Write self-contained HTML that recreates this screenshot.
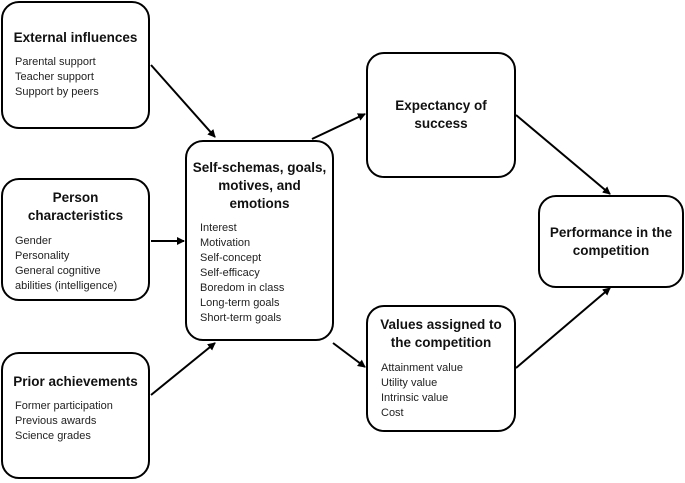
<!DOCTYPE html>
<html><head><style>
body{margin:0;width:685px;height:483px;background:#fff;position:relative;font-family:"Liberation Sans",sans-serif;color:#111;overflow:hidden}
.b{position:absolute;border:2px solid #000;border-radius:18px;box-sizing:border-box;background:#fff}
.t{position:absolute;font-weight:bold;font-size:13.5px;text-align:center;line-height:18px}
.l{position:absolute;font-size:11px;line-height:15px;color:#222}
svg{position:absolute;left:0;top:0}
</style></head><body>
<div class="b" style="left:1px;top:1px;width:149px;height:128px"></div>
<div class="t" style="left:1px;top:29px;width:149px">External influences</div>
<div class="l" style="left:15px;top:55px">Parental support<br>Teacher support<br>Support by peers</div>

<div class="b" style="left:1px;top:178px;width:149px;height:123px"></div>
<div class="t" style="left:1px;top:189px;width:149px">Person<br>characteristics</div>
<div class="l" style="left:15px;top:234px">Gender<br>Personality<br>General cognitive<br>abilities (intelligence)</div>

<div class="b" style="left:1px;top:352px;width:149px;height:127px"></div>
<div class="t" style="left:1px;top:373px;width:149px">Prior achievements</div>
<div class="l" style="left:15px;top:399px">Former participation<br>Previous awards<br>Science grades</div>

<div class="b" style="left:185px;top:140px;width:149px;height:201px"></div>
<div class="t" style="left:185px;top:159px;width:149px">Self-schemas, goals,<br>motives, and<br>emotions</div>
<div class="l" style="left:200px;top:221px">Interest<br>Motivation<br>Self-concept<br>Self-efficacy<br>Boredom in class<br>Long-term goals<br>Short-term goals</div>

<div class="b" style="left:366px;top:52px;width:150px;height:126px"></div>
<div class="t" style="left:366px;top:97px;width:150px">Expectancy of<br>success</div>

<div class="b" style="left:366px;top:305px;width:150px;height:127px"></div>
<div class="t" style="left:366px;top:316px;width:150px">Values assigned to<br>the competition</div>
<div class="l" style="left:381px;top:361px">Attainment value<br>Utility value<br>Intrinsic value<br>Cost</div>

<div class="b" style="left:538px;top:195px;width:146px;height:93px"></div>
<div class="t" style="left:538px;top:224px;width:146px">Performance in the<br>competition</div>

<svg width="685" height="483">
<defs><marker id="a" markerWidth="8" markerHeight="8" refX="7" refY="4" orient="auto" markerUnits="userSpaceOnUse"><path d="M0,0 L8,4 L0,8 z" fill="#000"/></marker></defs>
<g stroke="#000" stroke-width="2" marker-end="url(#a)">
<line x1="151" y1="65" x2="215" y2="137"/>
<line x1="151" y1="241" x2="184" y2="241"/>
<line x1="151" y1="395" x2="215" y2="343"/>
<line x1="312" y1="139" x2="365" y2="114"/>
<line x1="333" y1="343" x2="365" y2="367"/>
<line x1="516" y1="115" x2="610" y2="194"/>
<line x1="516" y1="368" x2="610" y2="288"/>
</g></svg>
</body></html>
